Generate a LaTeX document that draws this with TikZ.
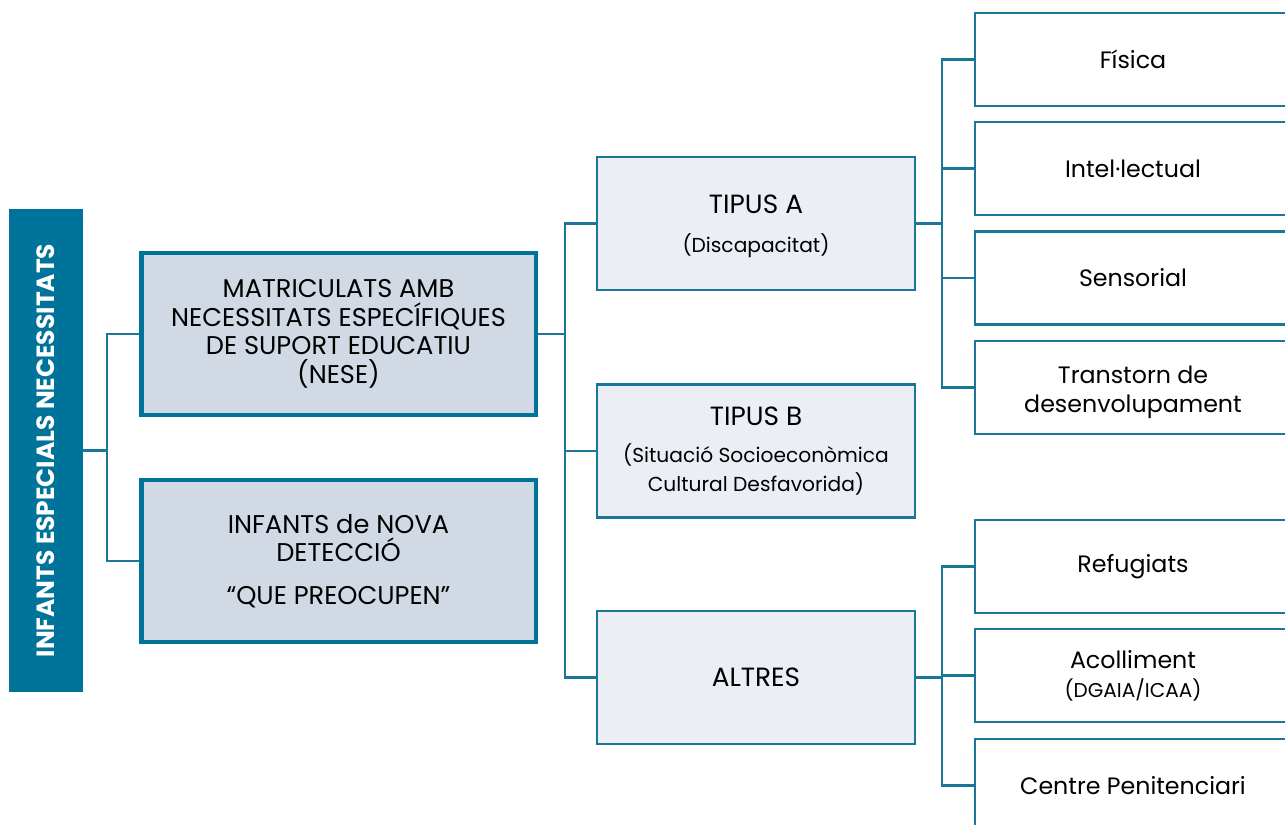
\documentclass[tikz,border=0pt]{standalone}
\usepackage{fontspec}
\setmainfont{Poppins}
\definecolor{teal1}{HTML}{00739A}
\definecolor{teal2}{HTML}{1B7799}
\definecolor{fillA}{HTML}{D1D9E5}
\definecolor{fillB}{HTML}{EBEEF5}
\def\subfs{\fontsize{11.5}{14.7}\selectfont}
\tikzset{
	conn/.style={draw=teal2, line width=1.3pt},
	bigbox/.style={draw=teal1, fill=fillA, line width=2.8pt, minimum width=7.9cm, minimum height=3.24cm, align=center, inner sep=0pt, font=\fontsize{14.6}{16.2}\selectfont},
	midbox/.style={draw=teal2, fill=fillB, line width=1.2pt, minimum width=6.36cm, minimum height=2.66cm, align=center, inner sep=0pt, font=\fontsize{15}{16.2}\selectfont},
	leafbox/.style={draw=teal2, fill=white, line width=1.2pt, minimum width=6.32cm, minimum height=1.86cm, align=center, inner sep=0pt, font=\fontsize{13.5}{16.4}\selectfont}
}

\begin{document}
\begin{tikzpicture}[x=0.02cm, y=-0.02cm]
	\useasboundingbox (0, 0) rectangle (1285, 825);
	\clip (0, 0) rectangle (1285, 825);
	
	% left bar
	\node[fill=teal1, minimum width=1.48cm, minimum height=9.66cm, inner sep=0pt] (bar) at (46, 450.5) {};
	\node[rotate=90, text=white, font=\fontsize{14.2}{16}\selectfont\bfseries] (bartxt) at (bar.center) {INFANTS ESPECIALS NECESSITATS};
	
	% first level
	\node[bigbox] (nese) at (338.5, 334) {MATRICULATS AMB\\NECESSITATS ESPECÍFIQUES\\DE SUPORT EDUCATIU\\(NESE)};
	\node[bigbox] (nova) at (338.5, 561) {INFANTS de NOVA\\DETECCIÓ\\[8pt]“QUE PREOCUPEN”};
	
	% second level
	\node[midbox] (tipa) at (756, 223.5) {\rule{0pt}{14pt}TIPUS A\\[6pt]\subfs (Discapacitat)};
	\node[midbox] (tipb) at (756, 451) {TIPUS B\\[5pt]\subfs (Situació Socioeconòmica\\\subfs Cultural Desfavorida)};
	\node[midbox] (altres) at (756, 677.5) {ALTRES};
	
	% third level
	\node[leafbox] (fis) at (1133, 59.5) {Física};
	\node[leafbox] (intl) at (1133, 168.5) {Intel·lectual};
	\node[leafbox] (sens) at (1133, 278) {Sensorial};
	\node[leafbox] (trans) at (1133, 387.5) {\rule{0pt}{15pt}Transtorn de\\desenvolupament};
	\node[leafbox] (refu) at (1133, 566.5) {Refugiats};
	\node[leafbox] (acol) at (1133, 675.5) {Acolliment\\\fontsize{11.4}{12}\selectfont (DGAIA/ICAA)};
	\node[leafbox] (peni) at (1133, 785.5) {Centre Penitenciari};
	
	% connectors
	\coordinate (j1) at (107, 450.5);
	\draw[conn] (bar.east) -- (j1) |- (nese.west);
	\draw[conn] (j1) |- (nova.west);
	
	\coordinate (j2) at (565, 334);
	\draw[conn] (nese.east) -- (j2) |- (tipa.west);
	\draw[conn] (j2) |- (tipb.west);
	\draw[conn] (j2) |- (altres.west);
	
	\coordinate (j3) at (942, 223.5);
	\draw[conn] (tipa.east) -- (j3) |- (fis.west);
	\draw[conn] (j3) |- (intl.west);
	\draw[conn] (j3) |- (sens.west);
	\draw[conn] (j3) |- (trans.west);
	
	\coordinate (j4) at (942, 677.5);
	\draw[conn] (altres.east) -- (j4) |- (refu.west);
	\draw[conn] (j4) |- (acol.west);
	\draw[conn] (j4) |- (peni.west);
\end{tikzpicture}
\end{document}
